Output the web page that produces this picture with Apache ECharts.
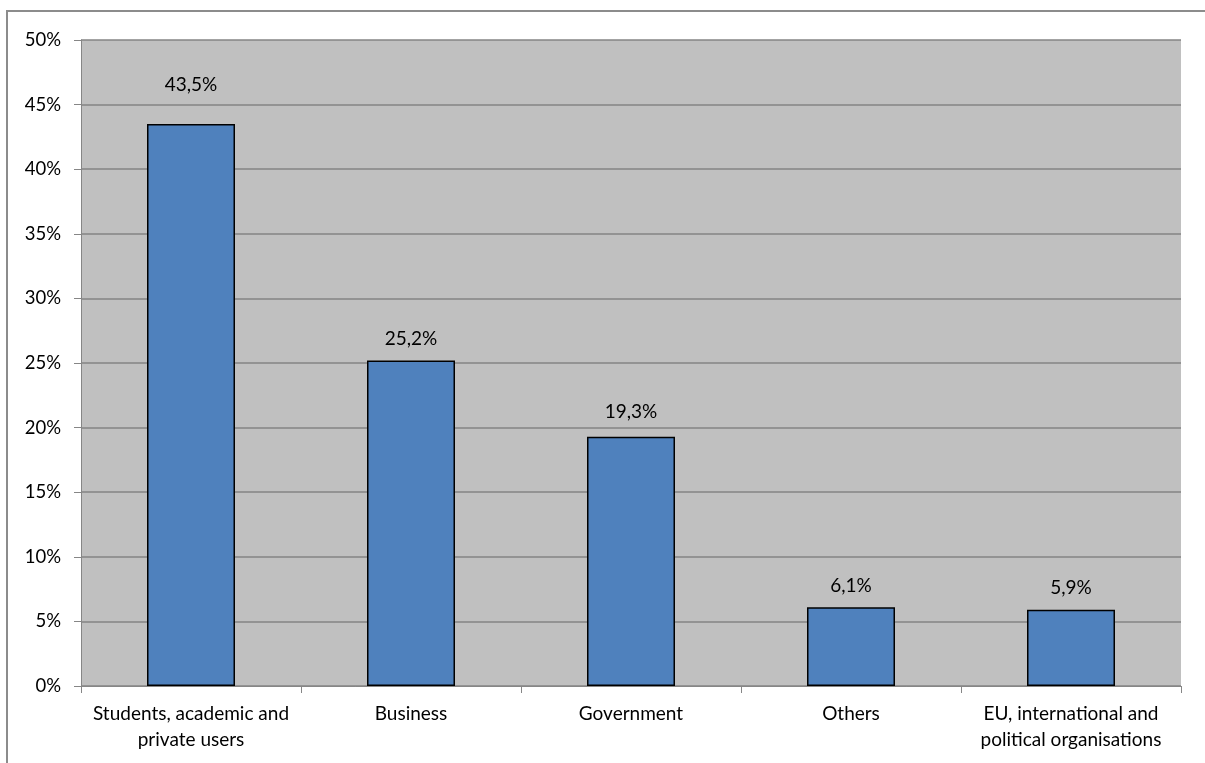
<!DOCTYPE html>
<html>
<head>
<meta charset="utf-8">
<script src="https://cdn.jsdelivr.net/npm/echarts@6/dist/echarts.min.js"></script>
<style>
html,body{margin:0;padding:0;background:#fff;}
#chart{width:1205px;height:763px;}
</style>
</head>
<body>
<div id="chart"></div>
<script>
const categories = ['Students, academic and\nprivate users', 'Business', 'Government', 'Others', 'EU, international and\npolitical organisations'];
const values = [43.5, 25.2, 19.3, 6.1, 5.9];
const labelDistances = [30, 12, 15, 12, 12];

const chart = echarts.init(document.getElementById('chart'));
const font = 'Lato, "Open Sans", sans-serif';
chart.setOption({
  backgroundColor: '#ffffff',
  animation: false,
  graphic: [{
    type: 'rect',
    shape: { x: 7, y: 11, width: 1220, height: 780 },
    style: { fill: 'none', stroke: '#8c8c8c', lineWidth: 2 },
    z: -1
  }],
  grid: {
    left: 81, right: 24, top: 40, bottom: 77,
    show: true, backgroundColor: '#C0C0C0', borderWidth: 0
  },
  xAxis: {
    type: 'category',
    data: categories,
    axisLine: { show: true, lineStyle: { color: '#868686', width: 1 } },
    axisTick: { show: true, length: 7, lineStyle: { color: '#868686' } },
    axisLabel: { color: '#000', fontFamily: font, fontSize: 19, lineHeight: 26, margin: 15, interval: 0 },
    splitLine: { show: false }
  },
  yAxis: {
    type: 'value',
    min: 0, max: 50, interval: 5,
    axisLine: { show: true, lineStyle: { color: '#868686', width: 1 } },
    axisTick: { show: true, length: 7, lineStyle: { color: '#868686' } },
    axisLabel: { color: '#000', fontFamily: font, fontSize: 18.5, margin: 20, formatter: '{value}%' },
    splitLine: { show: true, lineStyle: { color: '#858585', width: 1.5 } }
  },
  series: [{
    type: 'bar',
    barWidth: 88,
    data: values.map((v, i) => ({
      value: v,
      label: { distance: labelDistances[i] }
    })),
    itemStyle: { color: '#4F81BD', borderColor: '#000', borderWidth: 1.5 },
    label: {
      show: true, position: 'top', color: '#000', fontFamily: font, fontSize: 19,
      formatter: p => p.value.toFixed(1).replace('.', ',') + '%'
    }
  }]
});
</script>
</body>
</html>
